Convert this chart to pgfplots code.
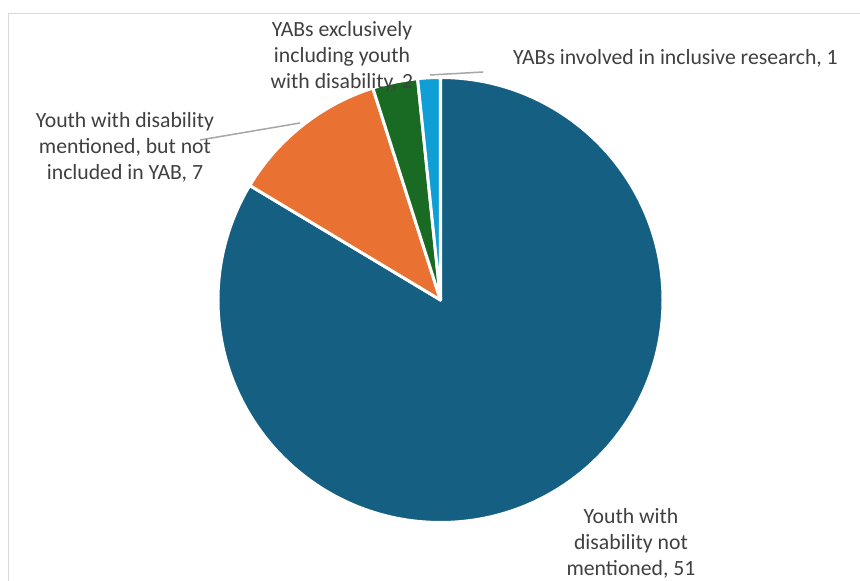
\documentclass[border=0pt]{standalone}
\usepackage{pgfplots}
\usepackage{pgfplotstable}
\pgfplotsset{compat=1.18}
\usepackage{fontspec}
\setmainfont{Carlito}

\definecolor{pieblue}{HTML}{156082}
\definecolor{pieorange}{HTML}{E97132}
\definecolor{piegreen}{HTML}{196B24}
\definecolor{pielight}{HTML}{0F9ED5}
\definecolor{labeltext}{HTML}{404040}
\definecolor{leader}{HTML}{A6A6A6}
\definecolor{frame}{HTML}{D9D9D9}

% Number of studies in each category
\pgfplotstableread{
cat value
notmentioned 51
mentioned 7
exclusive 2
inclusive 1
}\piedata

\begin{document}
\begin{tikzpicture}
% slice values and cumulative angles (clockwise from 12 o'clock)
\pgfplotstablegetelem{0}{value}\of\piedata \let\vA\pgfplotsretval
\pgfplotstablegetelem{1}{value}\of\piedata \let\vB\pgfplotsretval
\pgfplotstablegetelem{2}{value}\of\piedata \let\vC\pgfplotsretval
\pgfplotstablegetelem{3}{value}\of\piedata \let\vD\pgfplotsretval
\pgfmathsetmacro\total{\vA+\vB+\vC+\vD}
\pgfmathsetmacro\aO{90}
\pgfmathsetmacro\aA{\aO-360*(\vA/\total)}
\pgfmathsetmacro\aB{\aA-360*(\vB/\total)}
\pgfmathsetmacro\aC{\aB-360*(\vC/\total)}
\pgfmathsetmacro\aD{\aC-360*(\vD/\total)}
\def\R{222.5bp}
\begin{axis}[
  at={(0,0)}, anchor=south west,
  width=860bp, height=581bp, scale only axis,
  xmin=0, xmax=860, ymin=0, ymax=581,
  hide axis, clip=false,
]
% frame
\draw[frame, line width=1.5bp] (axis cs:8.5,-20) -- (axis cs:8.5,567.5) -- (axis cs:880,567.5);
% slices
\filldraw[fill=pieblue, draw=white, line width=3bp, line join=round]
  (axis cs:440.5,281) -- ++(\aO:\R) arc[start angle=\aO, end angle=\aA, radius=\R] -- cycle;
\filldraw[fill=pieorange, draw=white, line width=3bp, line join=round]
  (axis cs:440.5,281) -- ++(\aA:\R) arc[start angle=\aA, end angle=\aB, radius=\R] -- cycle;
\filldraw[fill=piegreen, draw=white, line width=3bp, line join=round]
  (axis cs:440.5,281) -- ++(\aB:\R) arc[start angle=\aB, end angle=\aC, radius=\R] -- cycle;
\filldraw[fill=pielight, draw=white, line width=3bp, line join=round]
  (axis cs:440.5,281) -- ++(\aC:\R) arc[start angle=\aC, end angle=\aD, radius=\R] -- cycle;
% leader lines
\draw[leader, line width=1.5bp] (axis cs:200,441) -- (axis cs:300,458);
\draw[leader, line width=1.5bp] (axis cs:430,506) -- (axis cs:483,509);
% data labels
\begin{scope}[every node/.style={text=labeltext, align=center, inner sep=0pt,
  font=\fontsize{21.8}{26}\selectfont}]
\node at (axis cs:631,38) {Youth with\\disability not\\mentioned, 51};
\node at (axis cs:125,434) {Youth with disability\\mentioned, but not\\included in YAB, 7};
\node at (axis cs:342,524) {YABs exclusively\\including youth\\with disability, 2};
\node at (axis cs:675.5,523) {YABs involved in inclusive research, 1};
\end{scope}
\end{axis}
\pgfresetboundingbox
\path[use as bounding box] (0,0) rectangle (860bp,581bp);
\end{tikzpicture}
\end{document}
